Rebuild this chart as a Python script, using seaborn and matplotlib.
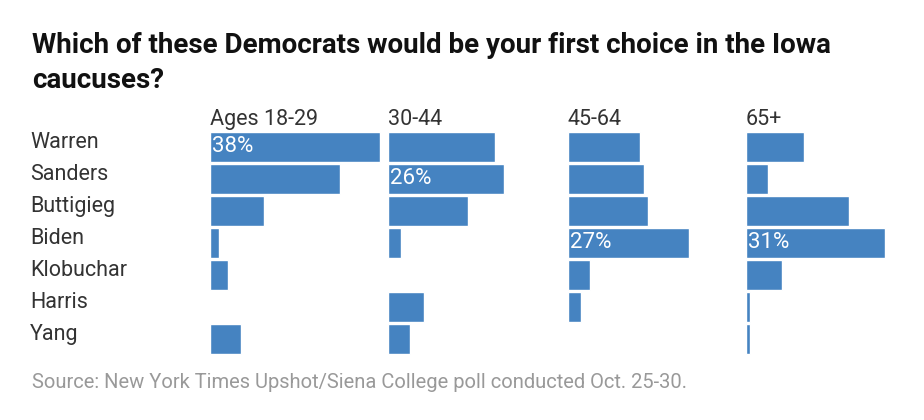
import numpy as np
import pandas as pd
import matplotlib
matplotlib.use("Agg")
import matplotlib.pyplot as plt
import matplotlib.transforms as mtransforms
import seaborn as sns

candidates = ["Warren", "Sanders", "Buttigieg", "Biden", "Klobuchar", "Harris", "Yang"]
age_groups = ["Ages 18-29", "30-44", "45-64", "65+"]
ages_18_29 = [38, 29, 12, 2, 4, 0, 7]
ages_30_44 = [24, 26, 18, 3, 0, 8, 5]
ages_45_64 = [16, 17, 18, 27, 5, 3, 0]
ages_65_up = [13, 5, 23, 31, 8, 1, 1]

title_lines = ["Which of these Democrats would be your first choice in the Iowa", "caucuses?"]
source = "Source: New York Times Upshot/Siena College poll conducted Oct. 25-30."

bar_color = "#4583c1"
text_color = "#333333"

df = pd.DataFrame({
    "candidate": candidates * len(age_groups),
    "group": np.repeat(age_groups, len(candidates)),
    "share": ages_18_29 + ages_30_44 + ages_45_64 + ages_65_up,
})

sns.set_theme(style="white")
plt.rcParams["font.family"] = ["Roboto", "DejaVu Sans"]

W, H = 924, 420
fig = plt.figure(figsize=(W / 100, H / 100), dpi=100)

# panel geometry in pixels
panel_left = [210, 388, 568, 746]
panel_w = 178
top, bottom = 131, 355
xmax = panel_w / 4.47  # about 4.47 px per percentage point

for i, (group, left) in enumerate(zip(age_groups, panel_left)):
    ax = fig.add_axes([left / W, 1 - bottom / H, panel_w / W, (bottom - top) / H])
    sub = df[df["group"] == group]
    sns.barplot(data=sub, x="share", y="candidate", order=candidates, color=bar_color,
                saturation=1, width=0.94, errorbar=None, ax=ax)
    ax.set_xlim(0, xmax)
    ax.set_ylim(len(candidates) - 0.5, -0.5)
    ax.set_axis_off()
    ax.set_title(group, loc="left", pad=4, fontsize=15.5, color=text_color)

    # label only the biggest bar
    vals = sub["share"].to_numpy()
    k = int(np.argmax(vals))
    ax.text(0.55, k + 0.17, f"{vals[k]}%", color="white", fontsize=16, va="baseline", ha="left")

    if i == 0:
        trans = mtransforms.blended_transform_factory(fig.transFigure, ax.transData)
        for j, name in enumerate(candidates):
            ax.text(30 / W, j + 0.03, name, transform=trans, va="baseline", ha="left",
                    fontsize=15.5, color=text_color)

for line, base in zip(title_lines, [53, 88]):
    fig.text(32 / W, 1 - base / H, line, fontsize=20, fontweight="bold",
             color="#111111", va="baseline")
fig.text(32 / W, 1 - 388 / H, source, fontsize=14.5, color="#999999", va="baseline")

fig.savefig("out.png", dpi=100, facecolor="white")
